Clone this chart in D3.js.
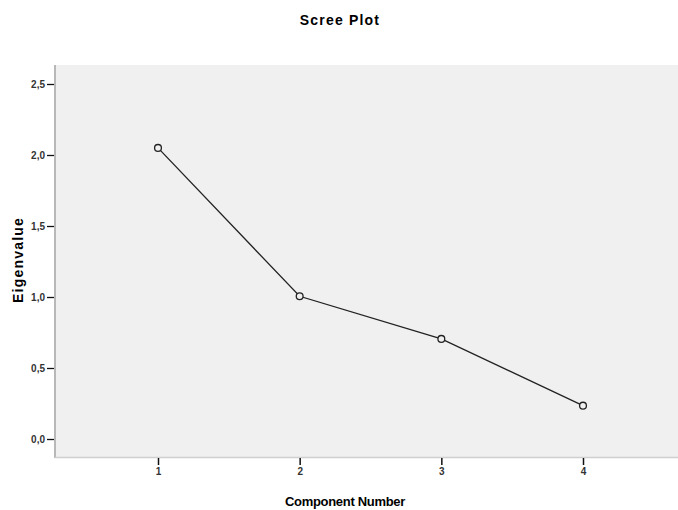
<!DOCTYPE html>
<html>
<head>
<meta charset="utf-8">
<script src="https://cdn.jsdelivr.net/npm/d3@7"></script>
<style>
  body { margin: 0; background: #fff; }
  text { font-family: "Liberation Sans", Arial, sans-serif; }
</style>
</head>
<body>
<div id="chart"></div>
<script>
// scree plot values
var components = [1, 2, 3, 4];
var eigenvalues = [2.05, 1.005, 0.705, 0.235];
var yTicks = [0, 0.5, 1.0, 1.5, 2.0, 2.5];

const width = 678, height = 510;
const plot = { left: 55, right: 678, top: 65, bottom: 457 };

const svg = d3.select('#chart')
    .append('svg')
    .attr('width', width)
    .attr('height', height)

const xScale = d3.scaleLinear()
    .domain([1, 4])
    .range([158, 583])

const yScale = d3.scaleLinear()
    .domain([0, 2.5])
    .range([439, 84])

// grey plot area
svg.append('rect')
    .attr('x', plot.left)
    .attr('y', plot.top)
    .attr('width', plot.right - plot.left)
    .attr('height', plot.bottom - plot.top)
    .attr('fill', '#f0f0f0')

// frame lines left and bottom
svg.append('line')
    .attr('x1', plot.left).attr('x2', plot.left)
    .attr('y1', plot.top).attr('y2', plot.bottom + 1)
    .attr('stroke', '#b8b8b8').attr('stroke-width', 2)
svg.append('line')
    .attr('x1', plot.left).attr('x2', plot.right)
    .attr('y1', plot.bottom + 0.5).attr('y2', plot.bottom + 0.5)
    .attr('stroke', '#cfcfcf').attr('stroke-width', 1.5)

const fmt = d => d3.format('.1f')(d).replace('.', ',');

const yAxis = svg.append('g')
    .attr('transform', `translate(${plot.left - 1}, 0)`)
    .call(d3.axisLeft(yScale).tickValues(yTicks).tickFormat(fmt).tickSize(7).tickPadding(2))
yAxis.select('.domain').remove()
yAxis.selectAll('.tick line').attr('stroke', '#111').attr('stroke-width', 1.3)
yAxis.selectAll('.tick text').attr('font-size', 10).attr('font-weight', 'bold').attr('fill', '#333')

const xAxis = svg.append('g')
    .attr('transform', `translate(0, ${plot.bottom + 1})`)
    .call(d3.axisBottom(xScale).tickValues(components).tickFormat(d3.format('d')).tickSize(7).tickPadding(3))
xAxis.select('.domain').remove()
xAxis.selectAll('.tick line').attr('stroke', '#111').attr('stroke-width', 1.5)
xAxis.selectAll('.tick text').attr('font-size', 10).attr('font-weight', 'bold').attr('fill', '#333')

// the scree line
const pts = components.map((c, i) => ({ c: c, v: eigenvalues[i] }));
svg.append('path')
    .datum(pts)
    .attr('fill', 'none')
    .attr('stroke', '#222')
    .attr('stroke-width', 1.3)
    .attr('d', d3.line().x(d => xScale(d.c)).y(d => yScale(d.v)))

svg.selectAll('circle.pt')
    .data(pts)
    .enter()
    .append('circle')
    .attr('class', 'pt')
    .attr('cx', d => xScale(d.c))
    .attr('cy', d => yScale(d.v))
    .attr('r', 3.4)
    .attr('fill', '#f0f0f0')
    .attr('stroke', '#222')
    .attr('stroke-width', 1.3)

// titles
svg.append('text')
    .attr('x', 340).attr('y', 25)
    .attr('text-anchor', 'middle')
    .attr('font-size', 14).attr('font-weight', 'bold')
    .attr('letter-spacing', 1.2)
    .text('Scree Plot')

svg.append('text')
    .attr('x', 345).attr('y', 506)
    .attr('text-anchor', 'middle')
    .attr('font-size', 13).attr('font-weight', 'bold')
    .attr('letter-spacing', -0.3)
    .text('Component Number')

svg.append('text')
    .attr('transform', 'translate(23, 260) rotate(-90)')
    .attr('text-anchor', 'middle')
    .attr('font-size', 14).attr('font-weight', 'bold')
    .attr('letter-spacing', 1.2)
    .text('Eigenvalue')
</script>
</body>
</html>
